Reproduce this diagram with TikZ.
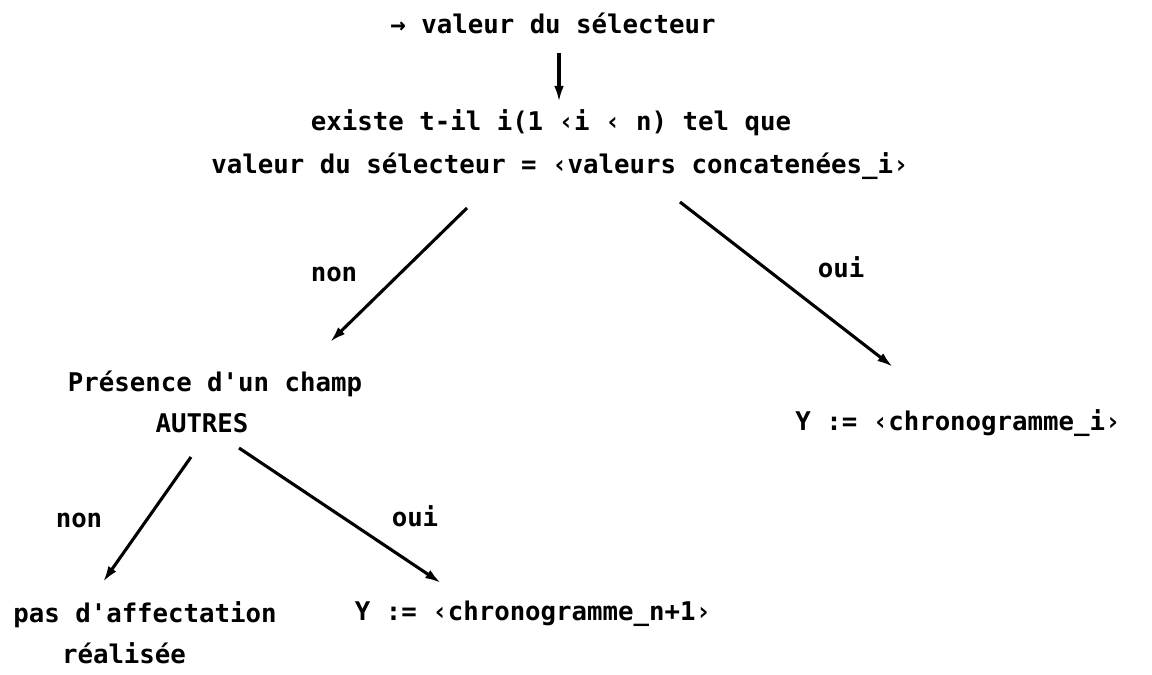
\documentclass[tikz,border=0pt]{standalone}
\usepackage{fontspec}
\setmonofont{DejaVu Sans Mono}
\usetikzlibrary{arrows.meta}
\tikzset{
  txt/.style={anchor=base,inner sep=0pt},
  flow/.style={-{Latex[length=4mm,width=2.4mm]},line width=2.2pt},
}

\begin{document}
\begin{tikzpicture}[x=0.025cm,y=-0.025cm,
 font=\ttfamily\bfseries\fontsize{18.3}{22}\selectfont]
\path[use as bounding box] (0,0) rectangle (1152,675);
% test on the selector value
\node[txt] (sel) at (553,34) {→ valeur du sélecteur};
\node[txt] (exist1) at (551,131) {existe t-il i(1 ‹i ‹ n) tel que};
\node[txt] (exist2) at (560,174) {valeur du sélecteur = ‹valeurs concatenées\_i›};
\node[txt] (presence) at (215,392) {Présence d'un champ};
\node[txt] (autres) at (202,432) {AUTRES};
\node[txt] (yi) at (958,430) {Y := ‹chronogramme\_i›};
\node[txt] (pas) at (145,622) {pas d'affectation};
\node[txt] (real) at (124,663) {réalisée};
\node[txt] (yn) at (533,620) {Y := ‹chronogramme\_n+1›};
\node[txt] (non1) at (334,282) {non};
\node[txt] (oui1) at (841,278) {oui};
\node[txt] (non2) at (79,527) {non};
\node[txt] (oui2) at (415,526) {oui};
\draw[flow] ([shift={(6,19)}]sel.base) -- ([shift={(8,-29)}]exist1.base);
\draw[flow] ([shift={(-93,34)}]exist2.base) -- ([shift={(115,-50)}]presence.base);
\draw[flow] ([shift={(120,28)}]exist2.base) -- ([shift={(-65,-63)}]yi.base);
\draw[flow] ([shift={(-11,25)}]autres.base) -- ([shift={(-42,-40)}]pas.base);
\draw[flow] ([shift={(37,16)}]autres.base) -- ([shift={(-92,-37)}]yn.base);
\end{tikzpicture}
\end{document}
